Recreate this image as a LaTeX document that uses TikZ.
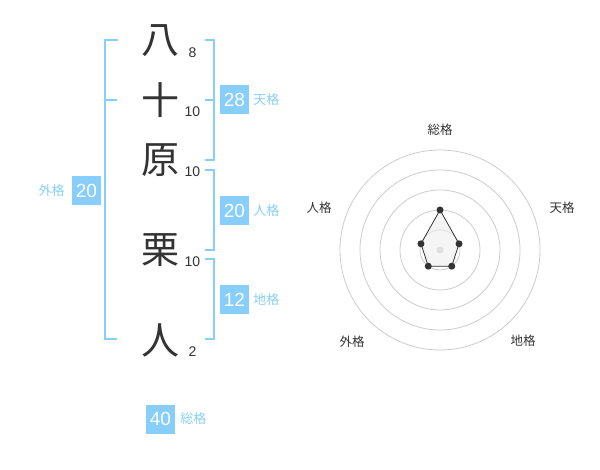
\documentclass[tikz,border=0pt]{standalone}
\usepackage{fontspec}
\setmainfont{Liberation Sans}
\newfontfamily\cjk{Noto Sans CJK JP}
\usetikzlibrary{positioning,calc}
\definecolor{nmSky}{HTML}{87CEFA}
\definecolor{nmInk}{HTML}{333333}
\definecolor{nmRing}{HTML}{CCCCCC}
\definecolor{nmFill}{HTML}{EEEEEE}
\tikzset{
  kanji/.style={font=\cjk\fontsize{38}{38}\selectfont, text=nmInk, inner sep=0pt},
  strk/.style={font=\fontsize{14}{14}\selectfont, text=nmInk, inner sep=0pt},
  brk/.style={draw=nmSky, line width=2pt},
  score/.style={fill=nmSky, text=white, minimum size=29pt, inner sep=0pt, font=\fontsize{19}{19}\selectfont},
  kaku/.style={font=\cjk\fontsize{13}{13}\selectfont, text=nmSky, inner sep=0pt},
  axlbl/.style={font=\cjk\fontsize{12.5}{12.5}\selectfont, text=nmInk, inner sep=0pt},
  ring/.style={draw=nmRing, line width=0.8pt},
  dot/.style={circle, fill=nmInk, inner sep=0pt, minimum size=7pt},
}
\begin{document}
\begin{tikzpicture}[x=1pt,y=-1pt]
  \useasboundingbox (0,0) rectangle (600,470);
  % name characters and stroke counts
  \foreach \k/\ch/\y/\n in {a/八/41/8, b/十/100/10, c/原/160/10, d/栗/250/10, e/人/340/2} {
    \node[kanji] (ch\k) at (160,\y) {\ch};
    \node[strk] (n\k) at (192.5,\y+12) {\n};
  }
  % brackets
  \draw[brk] (118,40) -- (105,40) -- (105,339) -- (117,339);
  \draw[brk] (105,100) -- (117,100);
  \draw[brk] (205,40) -- (214,40) -- (214,160) -- (205,160);
  \draw[brk] (205,100) -- (214,100);
  \draw[brk] (205,170) -- (214,170) -- (214,250) -- (205,250);
  \draw[brk] (205,259) -- (214,259) -- (214,339) -- (205,339);
  % scores
  \node[score] (sTen) at (234.5,100) {28};
  \node[kaku, right=4pt of sTen] (lTen) {天格};
  \node[score] (sJin) at (234.5,211) {20};
  \node[kaku, right=4pt of sJin] (lJin) {人格};
  \node[score] (sChi) at (234.5,300) {12};
  \node[kaku, right=4pt of sChi] (lChi) {地格};
  \node[score] (sGai) at (86.5,190.5) {20};
  \node[kaku, left=7pt of sGai] (lGai) {外格};
  \node[score] (sSou) at (160.5,419) {40};
  \node[kaku, right=5pt of sSou] (lSou) {総格};
  % radar chart
  \coordinate (ctr) at (440,250);
  \foreach \r in {20,40,...,100} {
    \draw[ring] (ctr) circle (\r);
  }
  \fill[nmRing] (ctr) circle (3.5);
  \coordinate (pSou) at ($(ctr)+(-90:40)$);
  \coordinate (pTen) at ($(ctr)+(-18:20)$);
  \coordinate (pChi) at ($(ctr)+(54:20)$);
  \coordinate (pGai) at ($(ctr)+(126:20)$);
  \coordinate (pJin) at ($(ctr)+(198:20)$);
  \draw[nmInk, fill=nmFill, fill opacity=0.6, line width=0.8pt] (pSou) -- (pTen) -- (pChi) -- (pGai) -- (pJin) -- cycle;
  \foreach \p in {pSou,pTen,pChi,pGai,pJin} {
    \node[dot] at (\p) {};
  }
  \node[axlbl] (aSou) at (440,130) {総格};
  \node[axlbl] (aTen) at (562,208) {天格};
  \node[axlbl] (aChi) at (523,341) {地格};
  \node[axlbl] (aGai) at (352,342) {外格};
  \node[axlbl] (aJin) at (319,208) {人格};
\end{tikzpicture}
\end{document}
